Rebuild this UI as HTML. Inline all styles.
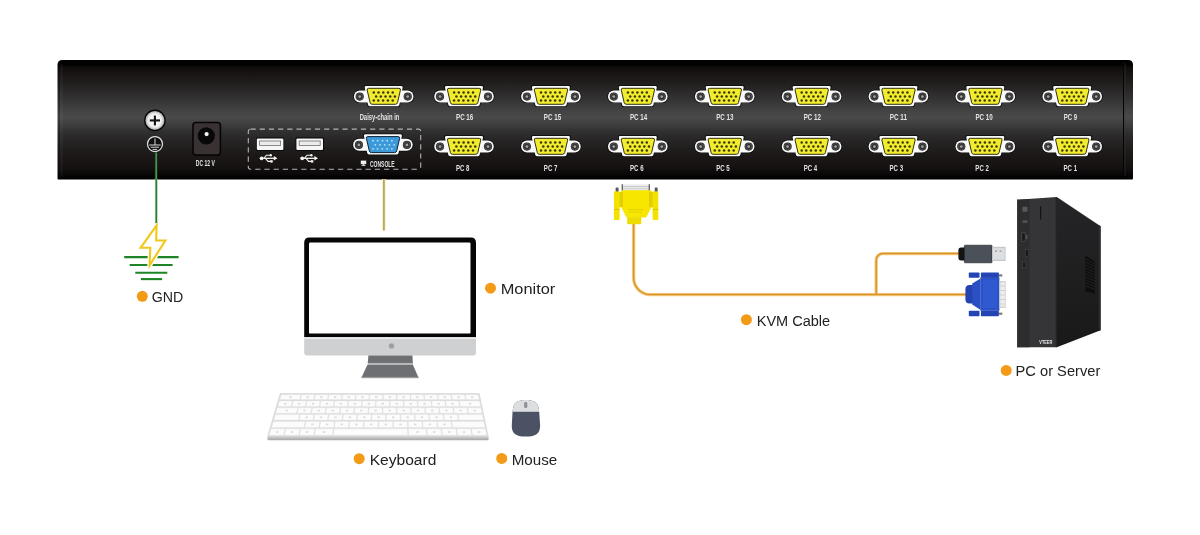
<!DOCTYPE html>
<html><head><meta charset="utf-8"><title>KVM Diagram</title>
<style>
html,body{margin:0;padding:0;background:#fff;width:1200px;height:535px;overflow:hidden}
svg{display:block;will-change:transform}
text{font-family:"Liberation Sans",sans-serif}
.lbl{font-size:15.2px;fill:#222}
.pl{font-size:8.4px;fill:#e2e2e2;font-weight:bold}
</style></head>
<body>
<svg width="1200" height="535" viewBox="0 0 1200 535">
<defs>
  <linearGradient id="pg" x1="0" y1="0" x2="0" y2="1">
    <stop offset="0" stop-color="#020202"/>
    <stop offset="0.045" stop-color="#040303"/>
    <stop offset="0.062" stop-color="#110d0d"/>
    <stop offset="0.1" stop-color="#171212"/>
    <stop offset="0.22" stop-color="#252222"/>
    <stop offset="0.336" stop-color="#353434"/>
    <stop offset="0.42" stop-color="#424242"/>
    <stop offset="0.48" stop-color="#4a4a4a"/>
    <stop offset="0.54" stop-color="#3e3e3e"/>
    <stop offset="0.6" stop-color="#313030"/>
    <stop offset="0.67" stop-color="#272525"/>
    <stop offset="0.8" stop-color="#1c1818"/>
    <stop offset="0.87" stop-color="#181414"/>
    <stop offset="0.92" stop-color="#120e0e"/>
    <stop offset="0.955" stop-color="#0a0808"/>
    <stop offset="0.98" stop-color="#030202"/>
    <stop offset="1" stop-color="#000000"/>
  </linearGradient>
  <radialGradient id="scrw" cx="0.5" cy="0.5" r="0.5">
    <stop offset="0" stop-color="#ffffff"/>
    <stop offset="0.7" stop-color="#eeeeee"/>
    <stop offset="1" stop-color="#a8a8a8"/>
  </radialGradient>
  <g id="hex">
    <circle r="4.1" fill="#262626"/>
    <polygon points="0,-3.5 3,-1.75 3,1.75 0,3.5 -3,1.75 -3,-1.75" fill="#303030" stroke="#6a6a6a" stroke-width="0.6"/>
    <circle r="1.4" fill="#a0a0a0"/>
  </g>
  <g id="vgabase">
    <rect x="-30.5" y="-6.5" width="61" height="13.3" rx="6.6" fill="#0a0a0a"/>
    <path d="M-18.4,-11.1 H18.4 Q20.3,-11.1 19.9,-9.2 L16.4,9 Q16.1,10.7 14.4,10.7 H-14.4 Q-16.1,10.7 -16.4,9 L-19.9,-9.2 Q-20.3,-11.1 -18.4,-11.1 Z" fill="#0a0a0a"/>
    <rect x="-29.8" y="-5.8" width="59.6" height="11.9" rx="5.9" fill="#fafafa"/>
    <path d="M-17.8,-10.3 H17.8 Q19.3,-10.3 19,-8.8 L15.7,8.5 Q15.4,9.9 14,9.9 H-14 Q-15.4,9.9 -15.7,8.5 L-19,-8.8 Q-19.3,-10.3 -17.8,-10.3 Z" fill="#fafafa"/>
    <use href="#hex" x="-24" y="0.3"/>
    <use href="#hex" x="24" y="0.3"/>
  </g>
  <g id="pins" fill="#3a3708">
    <circle cx="-9.9" cy="-3.9" r="1.25"/><circle cx="-5.2" cy="-3.9" r="1.25"/><circle cx="-0.4" cy="-3.9" r="1.25"/><circle cx="4.3" cy="-3.9" r="1.25"/><circle cx="9" cy="-3.9" r="1.25"/>
    <circle cx="-7.6" cy="0.2" r="1.25"/><circle cx="-2.9" cy="0.2" r="1.25"/><circle cx="1.8" cy="0.2" r="1.25"/><circle cx="6.5" cy="0.2" r="1.25"/><circle cx="11.2" cy="0.2" r="1.25"/>
    <circle cx="-9.9" cy="4.2" r="1.25"/><circle cx="-5.4" cy="4.2" r="1.25"/><circle cx="-0.6" cy="4.2" r="1.25"/><circle cx="4.2" cy="4.2" r="1.25"/><circle cx="9" cy="4.2" r="1.25"/>
  </g>
  <g id="vga">
    <use href="#vgabase"/>
    <path d="M-15,-8 H15.2 Q17.1,-8 16.7,-6.1 L13.8,6.3 Q13.4,8 11.7,8 H-11.5 Q-13.2,8 -13.6,6.3 L-16.5,-6.1 Q-16.9,-8 -15,-8 Z" fill="#f2ec2e" stroke="#1a1800" stroke-width="0.9"/>
    <use href="#pins"/>
  </g>
  <g id="vgab">
    <use href="#vgabase"/>
    <path d="M-15,-8 H15.2 Q17.1,-8 16.7,-6.1 L13.8,6.3 Q13.4,8 11.7,8 H-11.5 Q-13.2,8 -13.6,6.3 L-16.5,-6.1 Q-16.9,-8 -15,-8 Z" fill="#3d99d8" stroke="#0a2038" stroke-width="1"/>
    <g fill="#b4e6ff">
    <circle cx="-9.9" cy="-3.9" r="0.9"/><circle cx="-5.2" cy="-3.9" r="0.9"/><circle cx="-0.4" cy="-3.9" r="0.9"/><circle cx="4.3" cy="-3.9" r="0.9"/><circle cx="9" cy="-3.9" r="0.9"/>
    <circle cx="-7.6" cy="0.2" r="0.9"/><circle cx="-2.9" cy="0.2" r="0.9"/><circle cx="1.8" cy="0.2" r="0.9"/><circle cx="6.5" cy="0.2" r="0.9"/><circle cx="11.2" cy="0.2" r="0.9"/>
    <circle cx="-9.9" cy="4.2" r="0.9"/><circle cx="-5.4" cy="4.2" r="0.9"/><circle cx="-0.6" cy="4.2" r="0.9"/><circle cx="4.2" cy="4.2" r="0.9"/><circle cx="9" cy="4.2" r="0.9"/>
    </g>
  </g>
  <linearGradient id="kbstrip" x1="0" y1="0" x2="0" y2="1">
    <stop offset="0" stop-color="#d4d4d4"/>
    <stop offset="1" stop-color="#a6a6a6"/>
  </linearGradient>
  <linearGradient id="side" x1="0" y1="0" x2="0" y2="1">
    <stop offset="0" stop-color="#252527"/>
    <stop offset="1" stop-color="#19191a"/>
  </linearGradient>
</defs>

<!-- PANEL -->
<path d="M57.5,64.8 Q57.5,60 62.3,60 H1128.2 Q1133,60 1133,64.8 V178.4 Q1133,179.4 1132,179.4 H58.5 Q57.5,179.4 57.5,178.4 Z" fill="url(#pg)"/>
<rect x="58.6" y="63" width="1" height="115" fill="#000" opacity="0.35"/>
<rect x="59.8" y="64" width="3.2" height="113" fill="#fff" opacity="0.035"/>
<rect x="1123" y="61" width="1" height="117" fill="#050404"/>
<rect x="1124.6" y="63" width="0.8" height="113" fill="#3a3a3a" opacity="0.6"/>


<!-- ground screw -->
<circle cx="154.9" cy="120.4" r="10.8" fill="#050505"/>
<circle cx="154.9" cy="120.4" r="9.5" fill="url(#scrw)"/>
<rect x="149.8" y="119.4" width="10.2" height="2.1" fill="#111"/>
<rect x="153.85" y="115.6" width="2.1" height="9.8" fill="#111"/>
<!-- ground symbol -->
<circle cx="155" cy="144.1" r="7.5" fill="#0f0f0f" stroke="#e4e4e4" stroke-width="1.2"/>
<g stroke="#dadada" stroke-width="1">
<line x1="155" y1="138.5" x2="155" y2="145"/>
<line x1="149.2" y1="145" x2="160.6" y2="145"/>
<line x1="150.7" y1="147.2" x2="159.1" y2="147.2"/>
<line x1="152.6" y1="149.4" x2="157.2" y2="149.4"/>
</g>
<!-- DC jack -->
<rect x="193" y="122.5" width="27.4" height="32.6" rx="3" fill="#3a3232" stroke="#070505" stroke-width="1.6"/>
<circle cx="206.3" cy="135.8" r="8.6" fill="#080808"/>
<circle cx="206.6" cy="134.1" r="2.1" fill="#f4f4f4"/>
<text x="205.3" y="166.3" class="pl" text-anchor="middle" textLength="19" lengthAdjust="spacingAndGlyphs">DC 12 V</text>
<!-- dashed box -->
<rect x="248.3" y="129.1" width="172.4" height="40.1" rx="2.2" fill="none" stroke="#b4b4b4" stroke-width="1.1" stroke-dasharray="5.2 4"/>
<!-- USB ports -->
<g>
<rect x="256" y="137.6" width="28.2" height="13.2" rx="1.2" fill="#050505"/>
<rect x="256.8" y="138.4" width="26.6" height="11.6" rx="1" fill="#f6f6f6"/>
<rect x="259.6" y="141" width="21" height="4.4" fill="#ececec" stroke="#6e6e6e" stroke-width="0.8"/>
<rect x="295.6" y="137.6" width="28.2" height="13.2" rx="1.2" fill="#050505"/>
<rect x="296.4" y="138.4" width="26.6" height="11.6" rx="1" fill="#f6f6f6"/>
<rect x="299.2" y="141" width="21" height="4.4" fill="#ececec" stroke="#6e6e6e" stroke-width="0.8"/>
</g>
<g id="usbsym" fill="#f4f4f4" stroke="#f4f4f4">
<circle cx="261.6" cy="158.3" r="1.9" stroke="none"/>
<line x1="261.6" y1="158.3" x2="274.5" y2="158.3" stroke-width="1.3"/>
<polygon points="277.4,158.3 273.8,156.1 273.8,160.5" stroke="none"/>
<polyline points="263.8,158.3 266.4,155.2 270.2,155.2" fill="none" stroke-width="1.1"/>
<polyline points="265.4,158.3 268,161.4 270.8,161.4" fill="none" stroke-width="1.1"/>
<circle cx="270.8" cy="155.2" r="1.2" stroke="none"/>
<rect x="270.3" y="160.2" width="2.4" height="2.4" stroke="none"/>
</g>
<use href="#usbsym" x="40.6"/>
<!-- console label -->
<rect x="360.8" y="160.6" width="5.4" height="3.6" fill="#f0f0f0"/>
<rect x="362.8" y="164.2" width="1.4" height="1.2" fill="#f0f0f0"/>
<rect x="361.6" y="165.2" width="3.8" height="0.8" fill="#f0f0f0"/>
<text x="370" y="166.5" class="pl" textLength="24.7" lengthAdjust="spacingAndGlyphs">CONSOLE</text>

<!-- VGA connectors top row -->
<use href="#vga" x="383.7" y="96.3"/>
<use href="#vga" x="464" y="96.3"/>
<use href="#vga" x="550.9" y="96.3"/>
<use href="#vga" x="637.8" y="96.3"/>
<use href="#vga" x="724.7" y="96.3"/>
<use href="#vga" x="811.6" y="96.3"/>
<use href="#vga" x="898.4" y="96.3"/>
<use href="#vga" x="985.3" y="96.3"/>
<use href="#vga" x="1072.2" y="96.3"/>
<!-- bottom row -->
<use href="#vgab" x="382.9" y="144.6"/>
<use href="#vga" x="464" y="146.3"/>
<use href="#vga" x="550.9" y="146.3"/>
<use href="#vga" x="637.8" y="146.3"/>
<use href="#vga" x="724.7" y="146.3"/>
<use href="#vga" x="811.6" y="146.3"/>
<use href="#vga" x="898.4" y="146.3"/>
<use href="#vga" x="985.3" y="146.3"/>
<use href="#vga" x="1072.2" y="146.3"/>

<!-- panel labels -->
<g class="pl" text-anchor="middle">
<text x="379.5" y="119.5" textLength="39.7" lengthAdjust="spacingAndGlyphs">Daisy-chain in</text>
<text x="464.65" y="120.1" textLength="17.3" lengthAdjust="spacingAndGlyphs">PC 16</text>
<text x="552.50" y="120.1" textLength="17.3" lengthAdjust="spacingAndGlyphs">PC 15</text>
<text x="638.60" y="120.1" textLength="17.3" lengthAdjust="spacingAndGlyphs">PC 14</text>
<text x="724.80" y="120.1" textLength="17.3" lengthAdjust="spacingAndGlyphs">PC 13</text>
<text x="812.30" y="120.1" textLength="17.3" lengthAdjust="spacingAndGlyphs">PC 12</text>
<text x="898.40" y="120.1" textLength="17.3" lengthAdjust="spacingAndGlyphs">PC 11</text>
<text x="984.10" y="120.1" textLength="17.3" lengthAdjust="spacingAndGlyphs">PC 10</text>
<text x="1070.40" y="120.1" textLength="13.5" lengthAdjust="spacingAndGlyphs">PC 9</text>
<text x="462.75" y="171" textLength="13.5" lengthAdjust="spacingAndGlyphs">PC 8</text>
<text x="550.60" y="171" textLength="13.5" lengthAdjust="spacingAndGlyphs">PC 7</text>
<text x="636.80" y="171" textLength="13.5" lengthAdjust="spacingAndGlyphs">PC 6</text>
<text x="723.00" y="171" textLength="13.5" lengthAdjust="spacingAndGlyphs">PC 5</text>
<text x="810.50" y="171" textLength="13.5" lengthAdjust="spacingAndGlyphs">PC 4</text>
<text x="896.30" y="171" textLength="13.5" lengthAdjust="spacingAndGlyphs">PC 3</text>
<text x="982.10" y="171" textLength="13.5" lengthAdjust="spacingAndGlyphs">PC 2</text>
<text x="1070.30" y="171" textLength="13.5" lengthAdjust="spacingAndGlyphs">PC 1</text>
</g>


<!-- green ground wire + earth symbol -->
<line x1="156.2" y1="152.6" x2="156.2" y2="179" stroke="#0c3a10" stroke-width="3"/>
<line x1="156.2" y1="152.6" x2="156.2" y2="179" stroke="#5a9a5e" stroke-width="1.4"/>
<line x1="156.3" y1="179" x2="156.3" y2="226" stroke="#c8f0c8" stroke-width="3.2" opacity="0.5"/>
<line x1="156.3" y1="179" x2="156.3" y2="226" stroke="#2e7b3b" stroke-width="1.8"/>
<g stroke="#1f8426" stroke-width="2.1">
<line x1="124.2" y1="257.1" x2="178.6" y2="257.1"/>
<line x1="129.7" y1="265" x2="172.6" y2="265"/>
<line x1="135.3" y1="272.8" x2="167.3" y2="272.8"/>
<line x1="140.9" y1="279.1" x2="162.1" y2="279.1"/>
</g>
<path d="M156.6,225.4 L140.6,247.8 L150.3,247.8 L149.6,265.4 L165.4,240.5 L156.2,240.5 Z" fill="#ffffff" stroke="#ffffff" stroke-width="4.6" stroke-linejoin="round"/>
<path d="M156.6,225.4 L140.6,247.8 L150.3,247.8 L149.6,265.4 L165.4,240.5 L156.2,240.5 Z" fill="#ffffff" stroke="#f0c81c" stroke-width="2.1" stroke-linejoin="miter"/>

<!-- console to monitor line -->
<line x1="383.9" y1="179" x2="383.9" y2="230.5" stroke="#fbf0b8" stroke-width="3.6"/>
<line x1="383.9" y1="179" x2="383.9" y2="230.5" stroke="#aaa062" stroke-width="1.6"/>

<!-- MONITOR -->
<path d="M304.2,242.8 Q304.2,237.6 309.4,237.6 H470.8 Q476,237.6 476,242.8 V337.3 H304.2 Z" fill="#050505"/>
<rect x="309" y="242.6" width="161.5" height="91" rx="1.2" fill="#ffffff"/>
<path d="M304.2,338.6 H476 V352.6 Q476,355.6 473,355.6 H307.2 Q304.2,355.6 304.2,352.6 Z" fill="#cfd0d2"/>
<rect x="304.2" y="337.3" width="171.8" height="1.4" fill="#ececec"/>
<circle cx="391.5" cy="345.9" r="2.6" fill="#9d9fa1"/>
<path d="M368.4,355.5 H412.4 L412.9,362.9 H367.8 Z" fill="#6e6f72"/>
<rect x="367.6" y="362.9" width="45.4" height="2.1" fill="#b6b7b9"/>
<path d="M367.3,365 H413 L418.6,377.8 H361.4 Z" fill="#6e6f72"/>
<rect x="361.4" y="376.9" width="57.2" height="1.3" fill="#9a9b9d"/>

<!-- KEYBOARD -->
<polygon points="280.2,393.6 479.2,393.6 488.2,436.4 267.6,436.4" fill="#dedede" stroke="#d2d2d2" stroke-width="0.6"/>
<g fill="#fcfcfc" stroke="#e2e2e2" stroke-width="0.3">
<polygon points="281.3,394.8 300.8,394.8 299.7,399.6 279.9,399.6"/>
<polygon points="301.7,394.8 314.5,394.8 313.5,399.6 300.6,399.6"/>
<polygon points="315.4,394.8 328.1,394.8 327.3,399.6 314.4,399.6"/>
<polygon points="329.0,394.8 341.7,394.8 341.1,399.6 328.2,399.6"/>
<polygon points="342.6,394.8 355.4,394.8 354.9,399.6 342.0,399.6"/>
<polygon points="356.3,394.8 369.0,394.8 368.7,399.6 355.8,399.6"/>
<polygon points="369.9,394.8 382.6,394.8 382.5,399.6 369.6,399.6"/>
<polygon points="383.5,394.8 396.3,394.8 396.3,399.6 383.4,399.6"/>
<polygon points="397.2,394.8 409.9,394.8 410.1,399.6 397.2,399.6"/>
<polygon points="410.8,394.8 423.5,394.8 423.9,399.6 411.0,399.6"/>
<polygon points="424.4,394.8 437.2,394.8 437.7,399.6 424.8,399.6"/>
<polygon points="438.1,394.8 450.8,394.8 451.5,399.6 438.6,399.6"/>
<polygon points="451.7,394.8 464.4,394.8 465.3,399.6 452.4,399.6"/>
<polygon points="465.3,394.8 478.1,394.8 479.1,399.6 466.2,399.6"/>
<polygon points="279.4,401.0 292.4,401.0 291.0,406.4 277.8,406.4"/>
<polygon points="293.3,401.0 306.3,401.0 305.0,406.4 291.9,406.4"/>
<polygon points="307.2,401.0 320.1,401.0 319.1,406.4 305.9,406.4"/>
<polygon points="321.0,401.0 334.0,401.0 333.1,406.4 320.0,406.4"/>
<polygon points="334.9,401.0 347.8,401.0 347.2,406.4 334.0,406.4"/>
<polygon points="348.7,401.0 361.7,401.0 361.2,406.4 348.1,406.4"/>
<polygon points="362.6,401.0 375.5,401.0 375.2,406.4 362.1,406.4"/>
<polygon points="376.4,401.0 389.4,401.0 389.3,406.4 376.1,406.4"/>
<polygon points="390.3,401.0 403.2,401.0 403.3,406.4 390.2,406.4"/>
<polygon points="404.1,401.0 417.1,401.0 417.4,406.4 404.2,406.4"/>
<polygon points="418.0,401.0 430.9,401.0 431.4,406.4 418.3,406.4"/>
<polygon points="431.8,401.0 444.8,401.0 445.5,406.4 432.3,406.4"/>
<polygon points="445.7,401.0 458.6,401.0 459.5,406.4 446.4,406.4"/>
<polygon points="459.5,401.0 479.4,401.0 480.6,406.4 460.4,406.4"/>
<polygon points="277.4,407.8 297.7,407.8 296.3,413.2 275.8,413.2"/>
<polygon points="298.6,407.8 311.8,407.8 310.6,413.2 297.2,413.2"/>
<polygon points="312.7,407.8 325.8,407.8 324.9,413.2 311.5,413.2"/>
<polygon points="326.7,407.8 339.9,407.8 339.2,413.2 325.8,413.2"/>
<polygon points="340.8,407.8 354.0,407.8 353.5,413.2 340.1,413.2"/>
<polygon points="354.9,407.8 368.1,407.8 367.8,413.2 354.4,413.2"/>
<polygon points="369.0,407.8 382.2,407.8 382.0,413.2 368.7,413.2"/>
<polygon points="383.1,407.8 396.3,407.8 396.3,413.2 382.9,413.2"/>
<polygon points="397.2,407.8 410.4,407.8 410.6,413.2 397.2,413.2"/>
<polygon points="411.3,407.8 424.5,407.8 424.9,413.2 411.5,413.2"/>
<polygon points="425.4,407.8 438.6,407.8 439.2,413.2 425.8,413.2"/>
<polygon points="439.5,407.8 452.7,407.8 453.5,413.2 440.1,413.2"/>
<polygon points="453.6,407.8 466.8,407.8 467.8,413.2 454.4,413.2"/>
<polygon points="467.7,407.8 480.9,407.8 482.0,413.2 468.7,413.2"/>
<polygon points="275.4,414.6 299.6,414.6 298.3,420.0 273.8,420.0"/>
<polygon points="300.5,414.6 313.9,414.6 312.8,420.0 299.2,420.0"/>
<polygon points="314.8,414.6 328.2,414.6 327.4,420.0 313.7,420.0"/>
<polygon points="329.1,414.6 342.6,414.6 341.9,420.0 328.3,420.0"/>
<polygon points="343.5,414.6 356.9,414.6 356.4,420.0 342.8,420.0"/>
<polygon points="357.8,414.6 371.3,414.6 370.9,420.0 357.3,420.0"/>
<polygon points="372.2,414.6 385.6,414.6 385.5,420.0 371.8,420.0"/>
<polygon points="386.5,414.6 399.9,414.6 400.0,420.0 386.4,420.0"/>
<polygon points="400.8,414.6 414.3,414.6 414.5,420.0 400.9,420.0"/>
<polygon points="415.2,414.6 428.6,414.6 429.0,420.0 415.4,420.0"/>
<polygon points="429.5,414.6 442.9,414.6 443.6,420.0 429.9,420.0"/>
<polygon points="443.8,414.6 457.3,414.6 458.1,420.0 444.5,420.0"/>
<polygon points="458.2,414.6 482.4,414.6 483.5,420.0 459.0,420.0"/>
<polygon points="273.4,421.4 305.3,421.4 303.9,427.4 271.6,427.4"/>
<polygon points="306.2,421.4 319.8,421.4 318.7,427.4 304.8,427.4"/>
<polygon points="320.7,421.4 334.4,421.4 333.5,427.4 319.6,427.4"/>
<polygon points="335.3,421.4 349.0,421.4 348.3,427.4 334.4,427.4"/>
<polygon points="349.9,421.4 363.6,421.4 363.1,427.4 349.2,427.4"/>
<polygon points="364.5,421.4 378.1,421.4 377.9,427.4 364.0,427.4"/>
<polygon points="379.0,421.4 392.7,421.4 392.7,427.4 378.8,427.4"/>
<polygon points="393.6,421.4 407.3,421.4 407.5,427.4 393.6,427.4"/>
<polygon points="408.2,421.4 421.9,421.4 422.3,427.4 408.4,427.4"/>
<polygon points="422.8,421.4 436.5,421.4 437.1,427.4 423.2,427.4"/>
<polygon points="437.4,421.4 451.0,421.4 451.8,427.4 438.0,427.4"/>
<polygon points="451.9,421.4 483.8,421.4 485.1,427.4 452.7,427.4"/>
<polygon points="271.1,428.8 285.1,428.8 283.4,435.2 269.2,435.2"/>
<polygon points="286.0,428.8 299.9,428.8 298.5,435.2 284.3,435.2"/>
<polygon points="300.8,428.8 314.8,428.8 313.5,435.2 299.4,435.2"/>
<polygon points="315.7,428.8 333.3,428.8 332.4,435.2 314.4,435.2"/>
<polygon points="334.2,428.8 407.5,428.8 407.7,435.2 333.3,435.2"/>
<polygon points="408.4,428.8 426.1,428.8 426.5,435.2 408.6,435.2"/>
<polygon points="427.0,428.8 440.9,428.8 441.6,435.2 427.4,435.2"/>
<polygon points="441.8,428.8 455.8,428.8 456.7,435.2 442.5,435.2"/>
<polygon points="456.7,428.8 470.6,428.8 471.8,435.2 457.6,435.2"/>
<polygon points="471.5,428.8 485.4,428.8 486.8,435.2 472.7,435.2"/>
</g>
<g fill="#dadada"><rect x="289.2" y="396.4" width="2.4" height="1.6"/><rect x="306.4" y="396.4" width="2.4" height="1.6"/><rect x="320.1" y="396.4" width="2.4" height="1.6"/><rect x="333.8" y="396.4" width="2.4" height="1.6"/><rect x="347.5" y="396.4" width="2.4" height="1.6"/><rect x="361.2" y="396.4" width="2.4" height="1.6"/><rect x="375.0" y="396.4" width="2.4" height="1.6"/><rect x="388.7" y="396.4" width="2.4" height="1.6"/><rect x="402.4" y="396.4" width="2.4" height="1.6"/><rect x="416.1" y="396.4" width="2.4" height="1.6"/><rect x="429.8" y="396.4" width="2.4" height="1.6"/><rect x="443.5" y="396.4" width="2.4" height="1.6"/><rect x="457.3" y="396.4" width="2.4" height="1.6"/><rect x="471.0" y="396.4" width="2.4" height="1.6"/><rect x="284.0" y="402.9" width="2.4" height="1.6"/><rect x="297.9" y="402.9" width="2.4" height="1.6"/><rect x="311.9" y="402.9" width="2.4" height="1.6"/><rect x="325.8" y="402.9" width="2.4" height="1.6"/><rect x="339.8" y="402.9" width="2.4" height="1.6"/><rect x="353.7" y="402.9" width="2.4" height="1.6"/><rect x="367.7" y="402.9" width="2.4" height="1.6"/><rect x="381.6" y="402.9" width="2.4" height="1.6"/><rect x="395.6" y="402.9" width="2.4" height="1.6"/><rect x="409.5" y="402.9" width="2.4" height="1.6"/><rect x="423.4" y="402.9" width="2.4" height="1.6"/><rect x="437.4" y="402.9" width="2.4" height="1.6"/><rect x="451.3" y="402.9" width="2.4" height="1.6"/><rect x="468.8" y="402.9" width="2.4" height="1.6"/><rect x="285.6" y="409.7" width="2.4" height="1.6"/><rect x="303.3" y="409.7" width="2.4" height="1.6"/><rect x="317.5" y="409.7" width="2.4" height="1.6"/><rect x="331.7" y="409.7" width="2.4" height="1.6"/><rect x="345.9" y="409.7" width="2.4" height="1.6"/><rect x="360.1" y="409.7" width="2.4" height="1.6"/><rect x="374.3" y="409.7" width="2.4" height="1.6"/><rect x="388.5" y="409.7" width="2.4" height="1.6"/><rect x="402.7" y="409.7" width="2.4" height="1.6"/><rect x="416.9" y="409.7" width="2.4" height="1.6"/><rect x="431.0" y="409.7" width="2.4" height="1.6"/><rect x="445.2" y="409.7" width="2.4" height="1.6"/><rect x="459.4" y="409.7" width="2.4" height="1.6"/><rect x="473.6" y="409.7" width="2.4" height="1.6"/><rect x="305.4" y="416.5" width="2.4" height="1.6"/><rect x="319.8" y="416.5" width="2.4" height="1.6"/><rect x="334.3" y="416.5" width="2.4" height="1.6"/><rect x="348.7" y="416.5" width="2.4" height="1.6"/><rect x="363.1" y="416.5" width="2.4" height="1.6"/><rect x="377.6" y="416.5" width="2.4" height="1.6"/><rect x="392.0" y="416.5" width="2.4" height="1.6"/><rect x="406.4" y="416.5" width="2.4" height="1.6"/><rect x="420.9" y="416.5" width="2.4" height="1.6"/><rect x="435.3" y="416.5" width="2.4" height="1.6"/><rect x="449.7" y="416.5" width="2.4" height="1.6"/><rect x="311.2" y="423.6" width="2.4" height="1.6"/><rect x="325.9" y="423.6" width="2.4" height="1.6"/><rect x="340.6" y="423.6" width="2.4" height="1.6"/><rect x="355.2" y="423.6" width="2.4" height="1.6"/><rect x="369.9" y="423.6" width="2.4" height="1.6"/><rect x="384.6" y="423.6" width="2.4" height="1.6"/><rect x="399.3" y="423.6" width="2.4" height="1.6"/><rect x="414.0" y="423.6" width="2.4" height="1.6"/><rect x="428.7" y="423.6" width="2.4" height="1.6"/><rect x="443.3" y="423.6" width="2.4" height="1.6"/><rect x="276.0" y="431.2" width="2.4" height="1.6"/><rect x="291.0" y="431.2" width="2.4" height="1.6"/><rect x="305.9" y="431.2" width="2.4" height="1.6"/><rect x="322.7" y="431.2" width="2.4" height="1.6"/><rect x="416.2" y="431.2" width="2.4" height="1.6"/><rect x="433.0" y="431.2" width="2.4" height="1.6"/><rect x="448.0" y="431.2" width="2.4" height="1.6"/><rect x="462.9" y="431.2" width="2.4" height="1.6"/><rect x="477.9" y="431.2" width="2.4" height="1.6"/></g>
<path d="M268.4,436.2 H487.6 Q488.6,436.2 488.6,437.4 V439 Q488.6,440.2 487.4,440.2 H268.6 Q267.4,440.2 267.4,439 V437.4 Q267.4,436.2 268.4,436.2 Z" fill="url(#kbstrip)"/>

<!-- MOUSE -->
<clipPath id="mclip"><path d="M525.8,400.1 C530.5,400.1 535.4,401.2 537.5,404.4 C538.9,407 539.3,411 539.5,416.6 L540.1,424.5 C540.3,428.5 539.6,431.5 537.2,433.8 C534.8,436 530.8,436.6 525.8,436.6 C520.8,436.6 516.8,436 514.6,433.8 C512.2,431.5 511.6,428.5 511.8,424.5 L512.3,416.6 C512.5,411 512.9,407 514.2,404.4 C516.2,401.2 521.1,400.1 525.8,400.1 Z"/></clipPath>
<g clip-path="url(#mclip)">
<rect x="510" y="399" width="32" height="39" fill="#4b5264"/>
<rect x="510" y="399" width="32" height="12.6" fill="#dddee0"/>
<rect x="510" y="411.2" width="32" height="0.8" fill="#c4c6ca"/>
</g>
<rect x="524.1" y="402.1" width="3.2" height="6" rx="1.4" fill="#8f9196"/>
<!-- KVM CABLE -->
<g fill="none" stroke="#f8cd80" stroke-width="3.4">
<path d="M633.6,224 V277.8 A16.8,16.8 0 0 0 650.4,294.6 H966"/>
<path d="M876.2,294.6 V260.2 A6.6,6.6 0 0 1 882.8,253.6 H959"/>
</g>
<g fill="none" stroke="#d69530" stroke-width="1.5">
<path d="M633.6,224 V277.8 A16.8,16.8 0 0 0 650.4,294.6 H966"/>
<path d="M876.2,294.6 V260.2 A6.6,6.6 0 0 1 882.8,253.6 H959"/>
</g>
<!-- yellow VGA plug (top view) -->
<g>
<rect x="622" y="184.4" width="27.8" height="6.4" fill="#ececec"/>
<g stroke="#a8a8a8" stroke-width="0.5"><line x1="623" y1="186.6" x2="648.8" y2="186.6"/><line x1="623" y1="188.8" x2="648.8" y2="188.8"/></g>
<rect x="621.6" y="184.2" width="1.4" height="6.8" fill="#6a6a6a"/>
<rect x="648.6" y="184.2" width="1.4" height="6.8" fill="#6a6a6a"/>
<path d="M621.2,190.2 H651.7 V207 L646.1,217.4 H626.3 L621.2,207 Z" fill="#f7e600"/>
<path d="M627.2,217.2 H641.2 V224.2 H627.2 Z" fill="#eedb00"/>
<rect x="617" y="192" width="6" height="15.2" fill="#e3cf00"/>
<rect x="649" y="192" width="6" height="15.2" fill="#e3cf00"/>
<rect x="613.9" y="191.3" width="5.7" height="28.6" rx="1" fill="#f3e200"/>
<rect x="652.6" y="191.3" width="5.7" height="28.6" rx="1" fill="#f3e200"/>
<g stroke="#c9b400" stroke-width="0.6"><line x1="614" y1="209.5" x2="619.6" y2="209.5"/><line x1="652.6" y1="209.5" x2="658.3" y2="209.5"/></g>
<rect x="615.6" y="187.6" width="3" height="3.9" rx="0.8" fill="#5a5a5a"/>
<rect x="654.7" y="187.6" width="3" height="3.9" rx="0.8" fill="#5a5a5a"/>
<g stroke="#c7b300" stroke-width="0.4"><line x1="628" y1="209.5" x2="643" y2="209.5"/><line x1="629" y1="212" x2="642" y2="212"/></g>
</g>
<!-- USB plug -->
<path d="M961,247.6 H965 V260.4 H961 Q958.4,260.4 958.4,257.8 V250.2 Q958.4,247.6 961,247.6 Z" fill="#141414"/>
<rect x="964.3" y="245.2" width="27.8" height="17.6" rx="0.8" fill="#4a5159" stroke="#1a1c1f" stroke-width="0.6"/>
<rect x="992" y="246.8" width="13.6" height="14.2" fill="#c4c8cc"/>
<rect x="993" y="248.2" width="11.6" height="11.4" fill="#dde0e3"/>
<rect x="995" y="250.4" width="2" height="1.4" fill="#9a9a9a"/><rect x="999.5" y="250.4" width="2" height="1.4" fill="#9a9a9a"/>
<!-- blue VGA plug (side view) -->
<g>
<path d="M969.5,285 H973 V303.5 H969.5 Q965.4,303.5 965.4,299 V289.5 Q965.4,285 969.5,285 Z" fill="#2443b0"/>
<path d="M972.2,283.6 L980.6,278.4 V310 L972.2,304.6 Z" fill="#2b50c4"/>
<rect x="980.4" y="277.2" width="19" height="33.6" fill="#2c52c8"/>
<rect x="983" y="280" width="14" height="28" fill="#3059cf"/>
<rect x="968.8" y="272.4" width="10.7" height="5.3" rx="0.8" fill="#2345b4"/>
<rect x="980.9" y="272.4" width="18" height="5.3" rx="0.8" fill="#2345b4"/>
<rect x="968.8" y="310.8" width="10.7" height="5.4" rx="0.8" fill="#2345b4"/>
<rect x="980.9" y="310.8" width="18" height="5.4" rx="0.8" fill="#2345b4"/>
<rect x="999.4" y="281.1" width="6.3" height="26.8" fill="#cfcfcf"/>
<rect x="1000.4" y="282.4" width="4.4" height="24.2" fill="#eeeeee"/>
<g stroke="#b0b0b0" stroke-width="0.5"><line x1="1000.4" y1="286" x2="1004.8" y2="286"/><line x1="1000.4" y1="290.5" x2="1004.8" y2="290.5"/><line x1="1000.4" y1="295" x2="1004.8" y2="295"/><line x1="1000.4" y1="299.5" x2="1004.8" y2="299.5"/><line x1="1000.4" y1="304" x2="1004.8" y2="304"/></g>
<rect x="998.9" y="274.3" width="3.4" height="2.2" fill="#7a7a7a"/>
<rect x="998.9" y="312.6" width="3.4" height="2.2" fill="#7a7a7a"/>
</g>
<!-- PC TOWER -->
<path d="M1056.8,197.1 L1100.6,226.2 V330.2 L1056.8,347.2 Z" fill="url(#side)"/>
<path d="M1017.2,199.8 L1056.8,197.1 V347.2 H1017.2 Z" fill="#353537"/>
<path d="M1017.2,199.8 L1029.5,199 V347.2 H1017.2 Z" fill="#2d2d2f"/>
<rect x="1017.2" y="199.5" width="0.8" height="147.7" fill="#3e3e40"/>
<rect x="1055.8" y="197.3" width="1" height="149.9" fill="#1a1a1b"/>
<path d="M1098.8,225 L1100.6,226.2 V330.2 L1098.8,330.9 Z" fill="#2c2c2e"/>
<rect x="1022.4" y="206.8" width="5" height="5" rx="0.6" fill="#58585a"/>
<rect x="1022.4" y="220.2" width="5" height="2.8" fill="#505052"/>
<rect x="1021.8" y="232.8" width="3.4" height="8.4" fill="#1a1a1a" stroke="#5a5a5a" stroke-width="0.6"/>
<rect x="1026" y="235" width="1.4" height="4" fill="#555"/>
<rect x="1025.3" y="249.6" width="3.4" height="7" fill="#161616" stroke="#505050" stroke-width="0.5"/>
<rect x="1022.5" y="262" width="3.4" height="5.8" fill="#1a1a1a" stroke="#505050" stroke-width="0.5"/>
<rect x="1040" y="206.2" width="1.3" height="13.3" fill="#141414"/>
<path d="M1085.4,255.6 L1094.6,261.4 V293.6 L1085.4,291.2 Z" fill="#0e0e0e"/>
<g stroke="#2e2e2e" stroke-width="0.6">
<line x1="1085.6" y1="259" x2="1094.4" y2="264"/><line x1="1085.6" y1="262" x2="1094.4" y2="266.8"/><line x1="1085.6" y1="265" x2="1094.4" y2="269.6"/><line x1="1085.6" y1="268" x2="1094.4" y2="272.4"/><line x1="1085.6" y1="271" x2="1094.4" y2="275.2"/><line x1="1085.6" y1="274" x2="1094.4" y2="278"/><line x1="1085.6" y1="277" x2="1094.4" y2="280.8"/><line x1="1085.6" y1="280" x2="1094.4" y2="283.6"/><line x1="1085.6" y1="283" x2="1094.4" y2="286.4"/><line x1="1085.6" y1="286" x2="1094.4" y2="289.2"/>
</g>
<text x="1045.8" y="343.6" text-anchor="middle" font-size="4.6" font-weight="bold" fill="#e8e8e8" textLength="13" lengthAdjust="spacingAndGlyphs" font-family="Liberation Serif, serif">VTEER</text>

<!-- MAIN LABELS -->
<g fill="#f39a17">
<circle cx="142.3" cy="296.3" r="5.5"/>
<circle cx="490.5" cy="288.2" r="5.5"/>
<circle cx="746.4" cy="319.7" r="5.5"/>
<circle cx="1006.2" cy="370.4" r="5.5"/>
<circle cx="359.2" cy="458.7" r="5.5"/>
<circle cx="501.7" cy="458.4" r="5.5"/>
</g>
<g class="lbl">
<text x="151.80" y="302.20" textLength="31.50" lengthAdjust="spacingAndGlyphs">GND</text>
<text x="500.70" y="294.30" textLength="54.60" lengthAdjust="spacingAndGlyphs">Monitor</text>
<text x="756.70" y="325.90" textLength="73.50" lengthAdjust="spacingAndGlyphs">KVM Cable</text>
<text x="1015.60" y="375.90" textLength="84.70" lengthAdjust="spacingAndGlyphs">PC or Server</text>
<text x="369.70" y="464.60" textLength="66.60" lengthAdjust="spacingAndGlyphs">Keyboard</text>
<text x="511.70" y="464.80" textLength="45.60" lengthAdjust="spacingAndGlyphs">Mouse</text>
</g>
</svg>
</body></html>
